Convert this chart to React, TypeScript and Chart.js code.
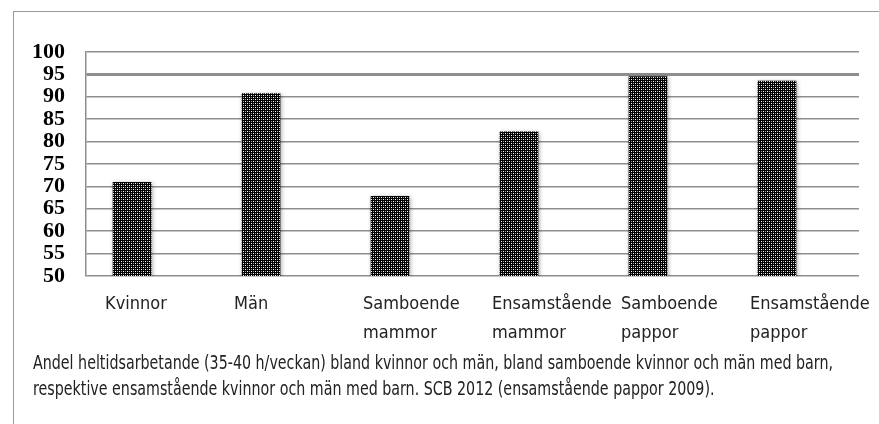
import React, { useEffect, useRef } from "react";
import { Chart, registerables } from "chart.js";

Chart.register(...registerables);

const categories: string[][] = [
  ["Kvinnor"],
  ["Män"],
  ["Samboende", "mammor"],
  ["Ensamstående", "mammor"],
  ["Samboende", "pappor"],
  ["Ensamstående", "pappor"],
];
const values: number[] = [70.9, 90.7, 67.8, 82.2, 94.5, 93.5];
const yMin = 50;
const yMax = 100;
const yStep = 5;
const captionLines: string[] = [
  "Andel heltidsarbetande (35-40 h/veckan) bland kvinnor och män, bland samboende kvinnor och män med barn,",
  "respektive ensamstående kvinnor och män med barn. SCB 2012 (ensamstående pappor 2009).",
];

const NARROW = '"Liberation Sans Narrow", "DejaVu Sans Condensed", "Arial Narrow", sans-serif';

function makePattern(): CanvasPattern | string {
  const c = document.createElement("canvas");
  c.width = 4;
  c.height = 4;
  const g = c.getContext("2d");
  if (!g) return "#333";
  g.fillStyle = "#000";
  g.fillRect(0, 0, 4, 4);
  g.fillStyle = "#fff";
  g.fillRect(1, 1, 1, 1);
  g.fillRect(3, 3, 1, 1);
  g.fillStyle = "#9a9a9a";
  g.fillRect(1, 3, 1, 1);
  g.fillRect(3, 1, 1, 1);
  const p = g.createPattern(c, "repeat");
  return p || "#333";
}

const shadowPlugin = {
  id: "barShadow",
  beforeDatasetsDraw(chart: any) {
    const ctx = chart.ctx;
    ctx.save();
    ctx.shadowColor = "rgba(0,0,0,0.35)";
    ctx.shadowBlur = 4;
    ctx.shadowOffsetX = 1;
    ctx.shadowOffsetY = 1;
  },
  afterDatasetsDraw(chart: any) {
    chart.ctx.restore();
  },
};

export default function App() {
  const ref = useRef<HTMLCanvasElement | null>(null);

  useEffect(() => {
    if (!ref.current) return;
    const pattern = makePattern();
    const chart = new Chart(ref.current, {
      type: "bar",
      data: {
        datasets: [
          {
            data: values.map((v, i) => ({ x: i, y: v })),
            backgroundColor: pattern as any,
            borderWidth: 0,
            barThickness: 38,
          },
        ],
      },
      options: {
        animation: false,
        responsive: false,
        events: [],
        layout: { padding: { top: 52, right: 20, left: 0, bottom: 0 } },
        plugins: {
          legend: { display: false },
          tooltip: { enabled: false },
        },
        scales: {
          x: {
            type: "linear",
            offset: false,
            min: -0.357,
            max: 5.636,
            grid: { display: false, drawTicks: false },
            border: { display: false },
            afterBuildTicks(scale: any) {
              scale.ticks = categories.map((_, i) => ({ value: i }));
            },
            afterFit(scale: any) {
              scale.height = 148;
              scale.paddingLeft = 0;
              scale.paddingRight = 0;
            },
            ticks: {
              autoSkip: false,
              maxRotation: 0,
              minRotation: 0,
              align: "start",
              labelOffset: -27,
              padding: 13,
              color: "#222",
              font: { family: NARROW, size: 18, lineHeight: 1.65 },
              callback: (v: any) => categories[v as number] ?? "",
            },
          },
          y: {
            min: yMin,
            max: yMax,
            grid: {
              color: "#8e8e8e",
              lineWidth: (c: any) => (c.tick && c.tick.value === 95 ? 3 : 1.5),
              drawTicks: false,
            },
            border: { display: true, color: "#8e8e8e", width: 1.5 },
            afterFit(scale: any) {
              scale.width = 86;
            },
            ticks: {
              stepSize: yStep,
              autoSkip: false,
              padding: 21,
              color: "#000",
              font: { family: '"Liberation Serif", "DejaVu Serif", serif', size: 22, weight: "bold", lineHeight: 1 },
            },
          },
        },
      },
      plugins: [shadowPlugin],
    });
    return () => chart.destroy();
  }, []);

  return (
    <div style={{ position: "absolute", left: 0, top: 0, width: 879, height: 424, background: "#fff", overflow: "hidden" }}>
      <div
        style={{
          position: "absolute",
          left: 13,
          top: 11,
          width: 866,
          height: 413,
          borderLeft: "1.5px solid #9a9a9a",
          borderTop: "1.5px solid #9a9a9a",
        }}
      />
      <canvas ref={ref} width={879} height={424} style={{ position: "absolute", left: 0, top: 0 }} />
      <div
        style={{
          position: "absolute",
          left: 33,
          top: 349,
          fontFamily: NARROW,
          fontSize: 19,
          lineHeight: "26px",
          color: "#222",
          whiteSpace: "nowrap",
          transform: "scaleX(0.834)",
          transformOrigin: "0 0",
        }}
      >
        {captionLines.map((l, i) => (
          <div key={i}>{l}</div>
        ))}
      </div>
    </div>
  );
}
